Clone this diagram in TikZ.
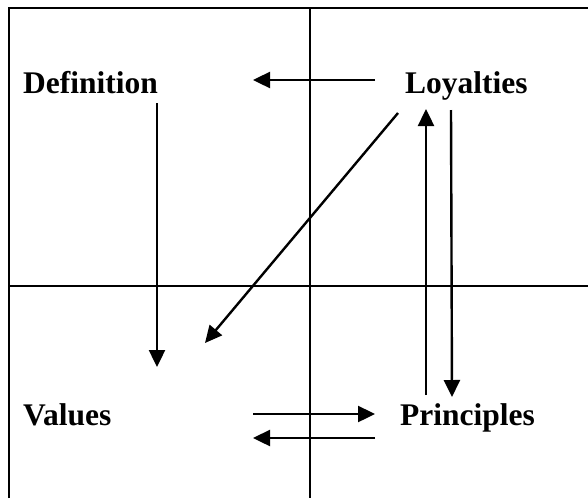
\documentclass[tikz,border=0pt]{standalone}
\usepackage{fontspec}
\setmainfont{Liberation Serif}
\usepackage{tikz}
\usetikzlibrary{calc, arrows.meta}

\begin{document}
\begin{tikzpicture}[x=1pt, y=-1pt,
      term/.style={anchor=base west, inner sep=0pt,
                   font=\fontsize{31.5}{36}\selectfont\bfseries},
      arr/.style={-{Triangle[length=17pt, width=16pt]}, line width=2.4pt},
      grid/.style={line width=1.2pt}]
      \useasboundingbox (0,0) rectangle (588,498);

      % Quadrant lines (box open to the right and bottom)
      \draw[grid, line width=1.6pt] (9,498) -- (9,8) -- (588,8);
      \draw[grid] (310,8) -- (310,498);
      \draw[grid, line width=1.5pt] (9,286) -- (588,286);

      % Terms
      \node[term] (def) at (23,93)  {Definition};
      \node[term] (loy) at (405,93) {Loyalties};
      \node[term] (val) at (23,425) {Values};
      \node[term] (pri) at (400,425) {Principles};

      % Arrows
      \draw[arr] ($(loy.base west)+(-30,-13)$) -- ($(def.base west)+(230,-13)$);
      \draw[arr] ($(def.base west)+(134,10)$) -- ($(val.base west)+(134,-58)$);
      \draw[arr] ($(loy.base west)+(-7,20)$) -- ($(val.base west)+(182,-82)$);
      \draw[arr] ($(pri.base west)+(26,-30)$) -- ($(loy.base west)+(21,16)$);
      \draw[arr] ($(loy.base west)+(46,17)$) -- ($(pri.base west)+(52,-28)$);
      \draw[arr] ($(val.base west)+(230,-11)$) -- ($(pri.base west)+(-25,-11)$);
      \draw[arr] ($(pri.base west)+(-25,13)$) -- ($(val.base west)+(230,13)$);
    \end{tikzpicture}
\end{document}
